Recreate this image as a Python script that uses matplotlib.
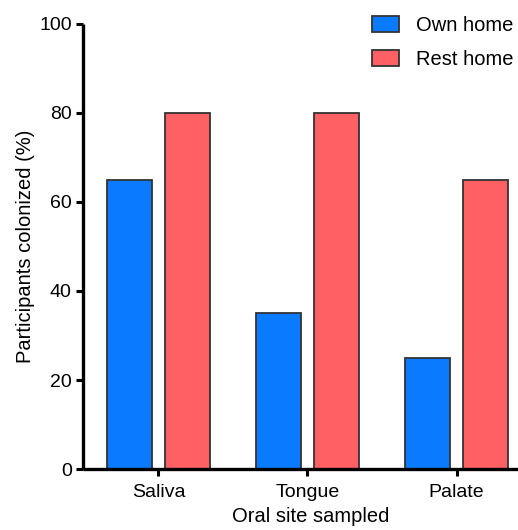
import matplotlib
matplotlib.use("Agg")
import matplotlib.pyplot as plt
import numpy as np
from matplotlib.patches import Patch

sites = ["Saliva", "Tongue", "Palate"]
own_home = [65, 35, 25]
rest_home = [80, 80, 65]
series_names = ["Own home", "Rest home"]
yticks = [0, 20, 40, 60, 80, 100]

blue = "#0A7BFF"
red = "#FF6063"
edge = "#333333"

plt.rcParams["font.family"] = ["Liberation Sans", "DejaVu Sans"]

fig = plt.figure(figsize=(5.18, 5.30), dpi=100)
ax = fig.add_axes([0.160, 0.115, 0.845, 0.840])

x = np.arange(len(sites))
w = 0.30
ax.bar(x - 0.195, own_home, width=w, color=blue, edgecolor=edge, linewidth=1.3, zorder=2)
ax.bar(x + 0.195, rest_home, width=w, color=red, edgecolor=edge, linewidth=1.3, zorder=2)

ax.set_xlim(-0.507, 2.43)
ax.set_ylim(0, 100)
ax.set_yticks(yticks)
ax.set_xticks(x)
ax.set_xticklabels(sites)
ax.tick_params(axis="both", labelsize=14, width=2.2, length=5, direction="out", color="black", pad=3)
ax.tick_params(axis="x", pad=6)
for s in ["top", "right"]:
    ax.spines[s].set_visible(False)
for s in ["left", "bottom"]:
    ax.spines[s].set_linewidth(2.4)
    ax.spines[s].set_capstyle("butt")

ax.set_ylabel("Participants colonized (%)", fontsize=14.5, labelpad=3)
ax.set_xlabel("Oral site sampled", fontsize=14.5)
ax.xaxis.set_label_coords(0.52, -0.085)

handles = [Patch(facecolor=blue, edgecolor=edge, linewidth=1.3),
           Patch(facecolor=red, edgecolor=edge, linewidth=1.3)]
ax.legend(handles, series_names, loc="upper right", bbox_to_anchor=(1.012, 1.045),
          frameon=False, fontsize=14.5, handlelength=1.35, handleheight=0.8,
          handletextpad=0.85, labelspacing=0.75, borderaxespad=0.2)

fig.savefig("out.png", dpi=100)
